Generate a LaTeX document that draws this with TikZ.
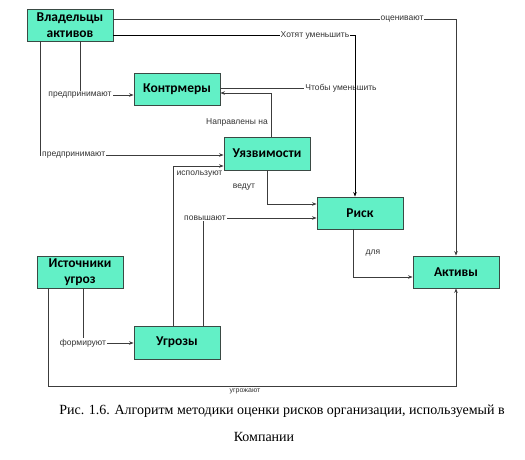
\documentclass[tikz,border=0pt]{standalone}
\usepackage{fontspec}
\setmainfont{Liberation Serif}
\newfontfamily\boxfont{Carlito}
\newfontfamily\lblfont{Liberation Sans}
\usetikzlibrary{arrows.meta}
\definecolor{boxfill}{HTML}{62F0C6}
\definecolor{boxline}{HTML}{3A4A44}
\definecolor{lnk}{HTML}{3C3C3C}
\tikzset{
  blk/.style={draw=boxline, line width=0.9pt, fill=boxfill, minimum width=86pt, minimum height=32pt,
    inner sep=1pt, align=center, font=\boxfont\bfseries\fontsize{13.5}{16.5}\selectfont},
  conn/.style={draw=lnk, line width=0.7pt},
  arr/.style={conn, -{Stealth[length=4.5pt,width=3.5pt]}},
  lbl/.style={font=\lblfont\fontsize{8.5}{9}\selectfont, text=black!80, inner sep=1pt},
  lblw/.style={lbl, fill=white},
}
\begin{document}
\begin{tikzpicture}[x=1pt,y=-1pt]
\useasboundingbox (0,0) rectangle (525,460);
% boxes
\node[blk] (vlad) at (70,25) {Владельцы\\активов};
\node[blk] (kontr) at (177,89) {Контрмеры};
\node[blk, minimum height=33pt] (uyaz) at (267,153.5) {Уязвимости};
\node[blk] (risk) at (360,213) {Риск};
\node[blk] (aktiv) at (456,272) {Активы};
\node[blk] (ist) at (80,272) {Источники\\угроз};
\node[blk, minimum height=33pt] (ugroz) at (177,342.5) {Угрозы};

% оценивают
\draw[arr] ([yshift=6pt]vlad.east) -| (aktiv.north);
\node[lblw] (l1) at (402,19) {оценивают};
% предпринимают -> Контрмеры
\draw[arr] ([xshift=10pt]vlad.south) |- ([yshift=-6pt]kontr.west);
\node[lblw] (l3) at (80,95) {предпринимают};
% предпринимают -> Уязвимости
\draw[arr] ([xshift=-30pt]vlad.south) |- ([yshift=-1.5pt]uyaz.west);
\node[lblw, anchor=west] (l4) at (41,155) {предпринимают};
% Направлены на
\draw[arr] ([xshift=4pt]uyaz.north) |- ([yshift=-4pt]kontr.east);
\node[lbl] (l5) at (237,122) {Направлены на};
% Чтобы уменьшить
\coordinate (c6) at (355,88);
\draw[conn] ([yshift=1pt]kontr.east) -- (c6);
\node[lblw] (l6) at (341,88) {Чтобы уменьшить};
% Хотят уменьшить
\draw[arr, draw=black] ([yshift=-10pt]vlad.east) -| ([xshift=-5pt]risk.north);
\node[lblw] (l2) at (315,35) {Хотят уменьшить};
% ведут
\draw[arr] (uyaz.south) |- ([yshift=9pt]risk.west);
\node[lbl] (l7) at (244,187) {ведут};
% используют
\draw[arr] ([xshift=-4pt]ugroz.north) |- ([yshift=-12.5pt]uyaz.west);
\node[lbl] (l8) at (199.5,174) {используют};
% повышают
\draw[arr] ([xshift=26pt]ugroz.north) |- ([yshift=-5pt]risk.west);
\node[lblw] (l9) at (205,218) {повышают};
% для
\draw[arr] ([xshift=-7pt]risk.south) |- ([yshift=-5pt]aktiv.west);
\node[lbl] (l10) at (373,253) {для};
% формируют
\draw[arr] ([xshift=3pt]ist.south) |- ([yshift=-0.5pt]ugroz.west);
\node[lblw] (l11) at (83,343) {формируют};
% угрожают
\coordinate (c12) at (48,386);
\draw[arr] ([xshift=-32pt]ist.south) -- (c12) -| (aktiv.south);
\node[lbl, font=\lblfont\fontsize{7}{8}\selectfont] (l12) at (245,391) {угрожают};

% caption
\node[font=\fontsize{14}{16}\selectfont, inner sep=0pt] (cap1) at (282,411) {Рис. 1.6. Алгоритм методики оценки рисков организации, используемый в};
\node[font=\fontsize{14}{16}\selectfont, inner sep=0pt] (cap2) at (264,437) {Компании};
\end{tikzpicture}
\end{document}
